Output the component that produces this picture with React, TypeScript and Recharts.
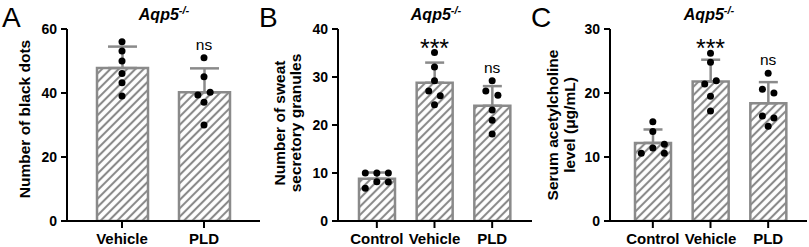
import React from 'react';
import { ComposedChart, Bar, ErrorBar, Line, LabelList, Scatter, XAxis, YAxis } from 'recharts';

// Panel A – Aqp5-/- black dots
const groupsA = ['Vehicle', 'PLD'];
const meanA = [47.8, 40.2];
const sdA = [6.7, 7.5];
const dotsA = [
  [56, 53.1, 50, 46.1, 43.2, 39.1],
  [51, 45.1, 39.4, 40.2, 37.1, 30],
];
const jitterA = [
  [0, 0, 0, 0, 0, 0],
  [0, 0, -0.075, 0.075, 0, 0],
];
const sigA = ['', 'ns'];
const ticksA = [0, 20, 40, 60];

// Panel B – sweat secretory granules
const groupsB = ['Control', 'Vehicle', 'PLD'];
const meanB = [8.8, 28.8, 24.0];
const sdB = [1.3, 4.2, 4.1];
const dotsB = [
  [10, 10, 10, 6.8, 8.2, 8.1],
  [35.1, 32.1, 29.2, 27.1, 26.1, 24.2],
  [29.2, 27.1, 26.2, 23.1, 21, 18.1],
];
const jitterB = [
  [-0.2, 0, 0.2, -0.2, 0, 0.2],
  [0, 0, 0, -0.1, 0.1, 0],
  [0, -0.11, 0.1, 0, 0, 0],
];
const sigB = ['', '***', 'ns'];
const ticksB = [0, 10, 20, 30, 40];

// Panel C – serum acetylcholine
const groupsC = ['Control', 'Vehicle', 'PLD'];
const meanC = [12.2, 21.8, 18.4];
const sdC = [2.1, 3.4, 3.3];
const dotsC = [
  [15.5, 14.0, 10.6, 11.4, 12.0, 10.6],
  [26.2, 24.8, 21.4, 21.9, 19.5, 17.2],
  [23.1, 20.6, 20.0, 16.4, 16.1, 14.8],
];
const jitterC = [
  [0, 0, -0.2, 0, 0.2, 0.2],
  [0, 0, -0.1, 0.1, 0, 0],
  [0, -0.1, 0.1, -0.1, 0.1, 0],
];
const sigC = ['', '***', 'ns'];
const ticksC = [0, 10, 20, 30];

const FONT = '"Liberation Sans", Arial, Helvetica, sans-serif';
const GREY = '#8a8a8a';

const SigLabel = (props: any) => {
  const { value } = props;
  if (!value) return null;
  const x = props.x ?? props.viewBox?.x;
  const y = props.y ?? props.viewBox?.y;
  const stars = value.indexOf('*') >= 0;
  return (
    <text
      x={x}
      y={stars ? y + 4 : y - 8}
      textAnchor="middle"
      fontFamily={FONT}
      fontSize={stars ? 25 : 15.5}
      fill="#000"
    >
      {value}
    </text>
  );
};

const Dot = (props: any) => <circle cx={props.cx} cy={props.cy} r={3.5} fill="#000" />;

interface PanelProps {
  left: number;
  width: number;
  yAxisWidth: number;
  padding: { left: number; right: number };
  barSize: number;
  capWidth: number;
  groups: string[];
  means: number[];
  sds: number[];
  dots: number[][];
  jitter: number[][];
  sig: string[];
  ticks: number[];
}

const Panel: React.FC<PanelProps> = ({ left, width, yAxisWidth, padding, barSize, capWidth, groups, means, sds, dots, jitter, sig, ticks }) => {
  const table = groups.map((name, i) => ({
    name,
    mean: means[i],
    err: [0, sds[i]],
    top: Math.max(...dots[i]),
    sig: sig[i],
  }));
  const points = dots.flatMap((arr, g) => arr.map((v, k) => ({ x: g + jitter[g][k], y: v })));
  const yMax = ticks[ticks.length - 1];

  return (
    <div style={{ position: 'absolute', left, top: 0 }}>
      <ComposedChart
        width={width}
        height={247}
        data={table}
        margin={{ top: 29, right: 2, bottom: 0, left: 0 }}
        style={{ fontFamily: FONT }}
      >
        <XAxis
          dataKey="name"
          height={26}
          padding={padding}
          interval={0}
          axisLine={{ stroke: '#000', strokeWidth: 2 }}
          tickLine={{ stroke: '#000', strokeWidth: 2 }}
          tickSize={7}
          tickMargin={5}
          tick={{ fill: '#000', fontSize: 15, fontWeight: 700 }}
        />
        <XAxis
          xAxisId="num"
          type="number"
          dataKey="x"
          domain={[-0.5, groups.length - 0.5]}
          padding={padding}
          allowDataOverflow
          hide
        />
        <YAxis
          width={yAxisWidth}
          domain={[0, yMax]}
          ticks={ticks}
          interval={0}
          allowDataOverflow
          axisLine={{ stroke: '#000', strokeWidth: 2 }}
          tickLine={{ stroke: '#000', strokeWidth: 2 }}
          tickSize={6}
          tickMargin={4}
          tick={{ fill: '#000', fontSize: 14, fontWeight: 700 }}
        />
        <Bar
          dataKey="mean"
          barSize={barSize}
          fill="url(#hatch)"
          stroke={GREY}
          strokeWidth={2.5}
          isAnimationActive={false}
        >
          <ErrorBar dataKey="err" direction="y" width={capWidth} stroke={GREY} strokeWidth={2.5} />
        </Bar>
        <Line dataKey="top" stroke="none" dot={false} activeDot={false} isAnimationActive={false}>
          <LabelList dataKey="sig" content={SigLabel} />
        </Line>
        <Scatter xAxisId="num" data={points} dataKey="y" shape={Dot} isAnimationActive={false} />
      </ComposedChart>
    </div>
  );
};

const Title = ({ x }: { x: number }) => (
  <text x={x} y={20} textAnchor="middle" fontFamily={FONT} fontSize={16} fontWeight={700} fontStyle="italic" fill="#000">
    Aqp5<tspan dy={-6} fontSize={11}>-/-</tspan>
  </text>
);

const AxisTitle = ({ cx, cy, lines }: { cx: number[]; cy: number; lines: string[] }) => (
  <g>
    {lines.map((t, i) => (
      <text
        key={t}
        transform={`translate(${cx[i]} ${cy}) rotate(-90)`}
        textAnchor="middle"
        fontFamily={FONT}
        fontSize={15.5}
        fontWeight={700}
        fill="#000"
      >
        {t}
      </text>
    ))}
  </g>
);

export default function App() {
  return (
    <div style={{ position: 'absolute', left: 0, top: 0, width: 809, height: 247, background: '#fff', overflow: 'hidden' }}>
      <svg width={0} height={0} style={{ position: 'absolute' }}>
        <defs>
          <pattern id="hatch" patternUnits="userSpaceOnUse" width={5.9} height={10} patternTransform="rotate(45)">
            <rect width={5.9} height={10} fill="#fff" />
            <line x1={2.95} y1={0} x2={2.95} y2={10} stroke={GREY} strokeWidth={2.1} />
          </pattern>
        </defs>
      </svg>

      <Panel
        left={0} width={262} yAxisWidth={67} padding={{ left: 14, right: 15 }} barSize={51} capWidth={14.5}
        groups={groupsA} means={meanA} sds={sdA} dots={dotsA} jitter={jitterA} sig={sigA} ticks={ticksA}
      />
      <Panel
        left={262} width={272} yAxisWidth={76} padding={{ left: 10, right: 11 }} barSize={36} capWidth={9.5}
        groups={groupsB} means={meanB} sds={sdB} dots={dotsB} jitter={jitterB} sig={sigB} ticks={ticksB}
      />
      <Panel
        left={534} width={275} yAxisWidth={76} padding={{ left: 14, right: 10 }} barSize={36} capWidth={9.5}
        groups={groupsC} means={meanC} sds={sdC} dots={dotsC} jitter={jitterC} sig={sigC} ticks={ticksC}
      />

      <svg width={809} height={247} style={{ position: 'absolute', left: 0, top: 0, pointerEvents: 'none' }}>
        <g fontFamily={FONT} fontSize={28} fill="#000">
          <text x={2} y={27}>A</text>
          <text x={259} y={27}>B</text>
          <text x={531} y={27}>C</text>
        </g>
        <Title x={164} />
        <Title x={436} />
        <Title x={709} />
        <AxisTitle cx={[29.5]} cy={119} lines={['Number of black dots']} />
        <AxisTitle cx={[285, 300.5]} cy={123} lines={['Number of sweat', 'secretory granules']} />
        <AxisTitle cx={[558, 574.5]} cy={125} lines={['Serum acetylcholine', 'level (\u03bcg/mL)']} />
      </svg>
    </div>
  );
}
